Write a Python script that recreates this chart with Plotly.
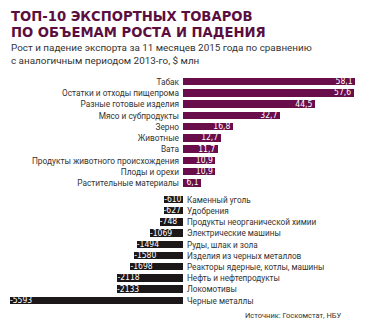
import plotly.graph_objects as go

# Export growth leaders, $ mln
pos_categories = [
    "Табак", "Остатки и отходы пищепрома", "Разные готовые изделия",
    "Мясо и субпродукты", "Зерно", "Животные", "Вата",
    "Продукты животного происхождения", "Плоды и орехи", "Растительные материалы",
]
pos_values = [58.1, 57.6, 44.5, 32.7, 16.8, 12.7, 11.7, 10.9, 10.9, 6.1]

# Export decline leaders, $ mln
neg_categories = [
    "Каменный уголь", "Удобрения", "Продукты неорганической химии",
    "Электрические машины", "Руды, шлак и зола", "Изделия из черных металлов",
    "Реакторы ядерные, котлы, машины", "Нефть и нефтепродукты",
    "Локомотивы", "Черные металлы",
]
neg_values = [-610, -627, -748, -1069, -1494, -1580, -1698, -2118, -2133, -5593]

title_lines = ["ТОП-10 ЭКСПОРТНЫХ ТОВАРОВ", "ПО ОБЪЕМАМ РОСТА И ПАДЕНИЯ"]
subtitle_lines = [
    "Рост и падение экспорта за 11 месяцев 2015 года по сравнению",
    "с аналогичным периодом 2013-го, $ млн",
]
source_text = "Источник: Госкомстат, НБУ"

W, H = 365, 325
PURPLE = "#6a0e4b"
DARK = "#1c1819"
TEXT = "#333333"
LABEL_FONT = "Roboto, 'Open Sans', sans-serif"
VALUE_FONT = "'Liberation Sans Narrow', 'DejaVu Sans Condensed', 'Roboto', sans-serif"

zero_px = 183
fig = go.Figure()

# growth bars
fig.add_trace(go.Bar(
    y=pos_categories, x=pos_values, orientation="h",
    marker=dict(color=PURPLE, line=dict(width=0)), width=0.66,
    xaxis="x", yaxis="y", hoverinfo="skip",
))
# value labels tucked inside the right end of each growth bar
fig.add_trace(go.Scatter(
    y=pos_categories, x=pos_values, mode="text",
    text=[f"{v:.1f}".replace(".", ",") + " " for v in pos_values],
    textposition="middle left", cliponaxis=False,
    textfont=dict(color="white", size=8.5, family=VALUE_FONT),
    xaxis="x", yaxis="y", hoverinfo="skip",
))

# decline bars
fig.add_trace(go.Bar(
    y=neg_categories, x=neg_values, orientation="h",
    marker=dict(color=DARK, line=dict(width=0)), width=0.66,
    xaxis="x2", yaxis="y2", hoverinfo="skip",
))
# value labels at the left end of each decline bar
fig.add_trace(go.Scatter(
    y=neg_categories, x=neg_values, mode="text",
    text=[str(v) for v in neg_values],
    textposition="middle right", cliponaxis=False,
    textfont=dict(color="white", size=8.5, family=VALUE_FONT),
    xaxis="x2", yaxis="y2", hoverinfo="skip",
))

fig.update_layout(
    width=W, height=H, autosize=False,
    margin=dict(l=0, r=0, t=0, b=0),
    paper_bgcolor="white", plot_bgcolor="white",
    showlegend=False, bargap=0, barmode="overlay",
    xaxis=dict(domain=[zero_px / W, 355 / W], range=[0, max(pos_values)],
               visible=False, anchor="y", fixedrange=True),
    yaxis=dict(domain=[1 - 189 / H, 1 - 76.4 / H], type="category",
               categoryorder="array", categoryarray=pos_categories[::-1],
               showgrid=False, zeroline=False, showline=False, ticks="",
               tickfont=dict(size=8.3, color=TEXT, family=LABEL_FONT),
               ticklabelstandoff=3, anchor="x"),
    xaxis2=dict(domain=[10 / W, zero_px / W], range=[min(neg_values), 0],
                visible=False, anchor="y2", fixedrange=True),
    yaxis2=dict(domain=[1 - 306.3 / H, 1 - 194.4 / H], type="category",
                categoryorder="array", categoryarray=neg_categories[::-1],
                side="right", showgrid=False, zeroline=False, showline=False,
                ticks="", tickfont=dict(size=8.2, color=TEXT, family=LABEL_FONT),
                ticklabelstandoff=3, anchor="x2"),
)

annotations = []
for i, line in enumerate(title_lines):
    annotations.append(dict(
        text=f"<b>{line}</b>", x=9 / W, y=1 - (16.5 + 16 * i) / H,
        xref="paper", yref="paper", xanchor="left", yanchor="middle",
        showarrow=False,
        font=dict(size=13.2, color="#5b0f40", family="'DejaVu Sans', sans-serif"),
    ))
for i, line in enumerate(subtitle_lines):
    annotations.append(dict(
        text=line, x=9 / W, y=1 - (48 + 12.5 * i) / H,
        xref="paper", yref="paper", xanchor="left", yanchor="middle",
        showarrow=False,
        font=dict(size=9.9, color=TEXT, family=LABEL_FONT),
    ))
annotations.append(dict(
    text=source_text, x=343 / W, y=1 - 315 / H,
    xref="paper", yref="paper", xanchor="right", yanchor="middle",
    showarrow=False, font=dict(size=7.5, color=TEXT, family=LABEL_FONT),
))
fig.update_layout(annotations=annotations)

fig.write_html("out.html", config={"displayModeBar": False})
